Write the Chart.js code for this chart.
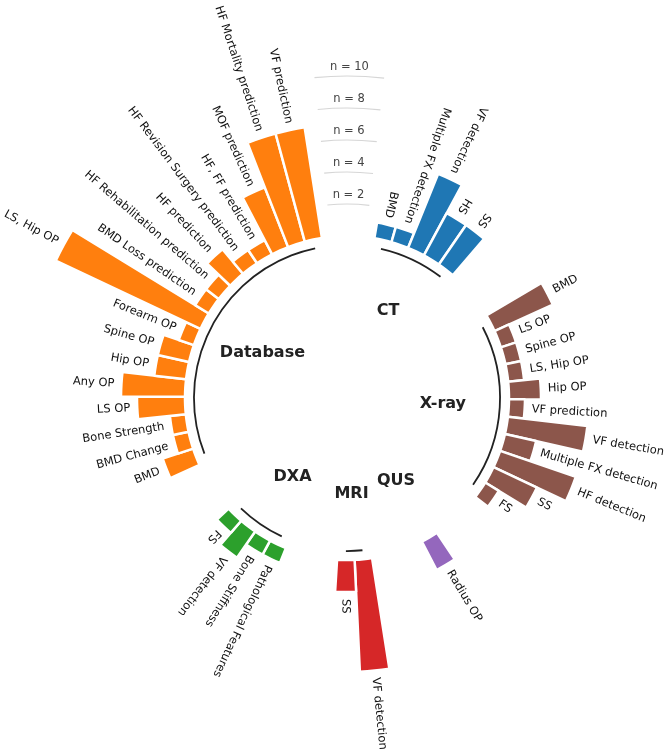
<!DOCTYPE html>
<html>
<head>
<meta charset="utf-8">
<script src="https://cdn.jsdelivr.net/npm/chart.js@4.4.1/dist/chart.umd.min.js"></script>
<style>
  html, body { margin: 0; padding: 0; background: #fff; }
  canvas { display: block; }
</style>
</head>
<body>
<canvas id="chart" width="667" height="754"></canvas>
<script>
// counts per study type, grouped by imaging modality (clockwise from the top)
const ctLabels = ["BMD", "Multiple FX detection", "VF detection", "HS", "SS"];
const ctValues = [1, 1, 5, 3, 3];

const xrayLabels = ["BMD", "LS OP", "Spine OP", "LS, Hip OP", "Hip OP", "VF prediction",
  "VF detection", "Multiple FX detection", "HF detection", "SS", "FS"];
const xrayValues = [4, 1, 1, 1, 2, 1, 5, 2, 5, 3, 1];

const qusLabels = ["Radius OP"];
const qusValues = [2];

const mriLabels = ["VF detection", "SS"];
const mriValues = [7, 2];

const dxaLabels = ["Pathological Features", "Bone Stiffness", "VF detection", "FS"];
const dxaValues = [1, 1, 2, 1];

const databaseLabels = ["BMD", "BMD Change", "Bone Strength", "LS OP", "Any OP", "Hip OP",
  "Spine OP", "Forearm OP", "LS, Hip OP", "BMD Loss prediction", "HF Rehabilitation prediction",
  "HF prediction", "HF Revision Surgery prediction", "HF, FF prediction", "MOF prediction",
  "HF Mortality prediction", "VF prediction"];
const databaseValues = [2, 1, 1, 3, 4, 2, 2, 1, 10, 1, 1, 2, 1, 1, 4, 7, 7];

const groupNames = ["CT", "X-ray", "QUS", "MRI", "DXA", "Database"];
const groupColors = ["#1f77b4", "#8c564b", "#9467bd", "#d62728", "#2ca02c", "#ff7f0e"];
const gridTicks = [2, 4, 6, 8, 10];

const GAP = 3; // empty slots before each group
const FONT = "'DejaVu Sans', sans-serif";

const groupData = [
  [ctLabels, ctValues],
  [xrayLabels, xrayValues],
  [qusLabels, qusValues],
  [mriLabels, mriValues],
  [dxaLabels, dxaValues],
  [databaseLabels, databaseValues],
];

// flatten into slots, with gaps between groups
const slotLabels = [];
const slotValues = [];
const slotGroup = [];
groupData.forEach(([labels, values], g) => {
  for (let i = 0; i < GAP; i++) {
    slotLabels.push("");
    slotValues.push(0);
    slotGroup.push(-1);
  }
  labels.forEach((label, i) => {
    slotLabels.push(label);
    slotValues.push(values[i]);
    slotGroup.push(g);
  });
});

const midAngle = (arc) => (arc.startAngle + arc.endAngle) / 2;

const circularBars = {
  id: "circularBars",
  afterDatasetsUpdate(chart) {
    // bars start from the zero ring, not from the centre
    const scale = chart.scales.r;
    const base = scale.getDistanceFromCenterForValue(0);
    chart.getDatasetMeta(0).data.forEach((arc) => {
      arc.innerRadius = base;
    });
  },
  afterDatasetsDraw(chart) {
    const { ctx } = chart;
    const scale = chart.scales.r;
    const cx = scale.xCenter;
    const cy = scale.yCenter;
    const arcs = chart.getDatasetMeta(0).data;
    ctx.save();

    // reference rings in the first gap
    const g0 = midAngle(arcs[0]);
    const g1 = midAngle(arcs[GAP - 1]);
    const gm = midAngle(arcs[Math.floor(GAP / 2)]);
    gridTicks.forEach((n) => {
      const r = scale.getDistanceFromCenterForValue(n);
      ctx.beginPath();
      ctx.arc(cx, cy, r, g0, g1);
      ctx.strokeStyle = "#d6d6d6";
      ctx.lineWidth = 1.2;
      ctx.stroke();
      ctx.font = `11.5px ${FONT}`;
      ctx.fillStyle = "#444";
      ctx.textAlign = "center";
      ctx.textBaseline = "middle";
      ctx.fillText(`n = ${n}`, cx + (r + 9) * Math.cos(gm), cy + (r + 9) * Math.sin(gm));
    });

    // group baselines and names
    groupNames.forEach((name, g) => {
      const idx = slotGroup.map((v, i) => (v === g ? i : -1)).filter((i) => i >= 0);
      const a0 = midAngle(arcs[idx[0]]);
      const a1 = midAngle(arcs[idx[idx.length - 1]]);
      const rLine = scale.getDistanceFromCenterForValue(-0.56);
      if (a1 > a0) {
        ctx.beginPath();
        ctx.arc(cx, cy, rLine, a0, a1);
        ctx.strokeStyle = "#222";
        ctx.lineWidth = 1.8;
        ctx.stroke();
      }
      const am = (a0 + a1) / 2;
      const rText = scale.getDistanceFromCenterForValue(-4.12);
      ctx.font = `bold 16px ${FONT}`;
      ctx.fillStyle = "#222";
      ctx.textAlign = "center";
      ctx.textBaseline = "middle";
      ctx.fillText(name, cx + rText * Math.cos(am), cy + rText * Math.sin(am));
    });

    // bar labels, rotated along the radius
    ctx.font = `11.5px ${FONT}`;
    ctx.fillStyle = "#111";
    ctx.textBaseline = "middle";
    arcs.forEach((arc, i) => {
      if (slotGroup[i] < 0) return;
      const a = midAngle(arc);
      const r = arc.outerRadius + 7;
      let deg = ((a * 180) / Math.PI + 90) % 360;
      if (deg < 0) deg += 360;
      const outward = deg >= 50 && deg < 235;
      ctx.save();
      ctx.translate(cx + r * Math.cos(a), cy + r * Math.sin(a));
      ctx.rotate(outward ? a : a + Math.PI);
      ctx.textAlign = outward ? "left" : "right";
      ctx.fillText(slotLabels[i], 0, 0);
      ctx.restore();
    });

    ctx.restore();
  },
};

new Chart(document.getElementById("chart"), {
  type: "polarArea",
  data: {
    labels: slotLabels,
    datasets: [
      {
        data: slotValues,
        backgroundColor: slotGroup.map((g) => (g < 0 ? "rgba(0,0,0,0)" : groupColors[g])),
        borderColor: "#fff",
        borderWidth: slotGroup.map((g) => (g < 0 ? 0 : 2.5)),
        clip: false,
      },
    ],
  },
  options: {
    responsive: false,
    animation: false,
    layout: { padding: { left: 27, right: 0, top: 42, bottom: 0 } },
    plugins: {
      legend: { display: false },
      tooltip: { enabled: false },
    },
    scales: {
      r: {
        min: -10.125,
        max: 9.875,
        startAngle: -8.9,
        ticks: { display: false },
        grid: { display: false },
        angleLines: { display: false },
        pointLabels: { display: false },
      },
    },
  },
  plugins: [circularBars],
});
</script>
</body>
</html>
